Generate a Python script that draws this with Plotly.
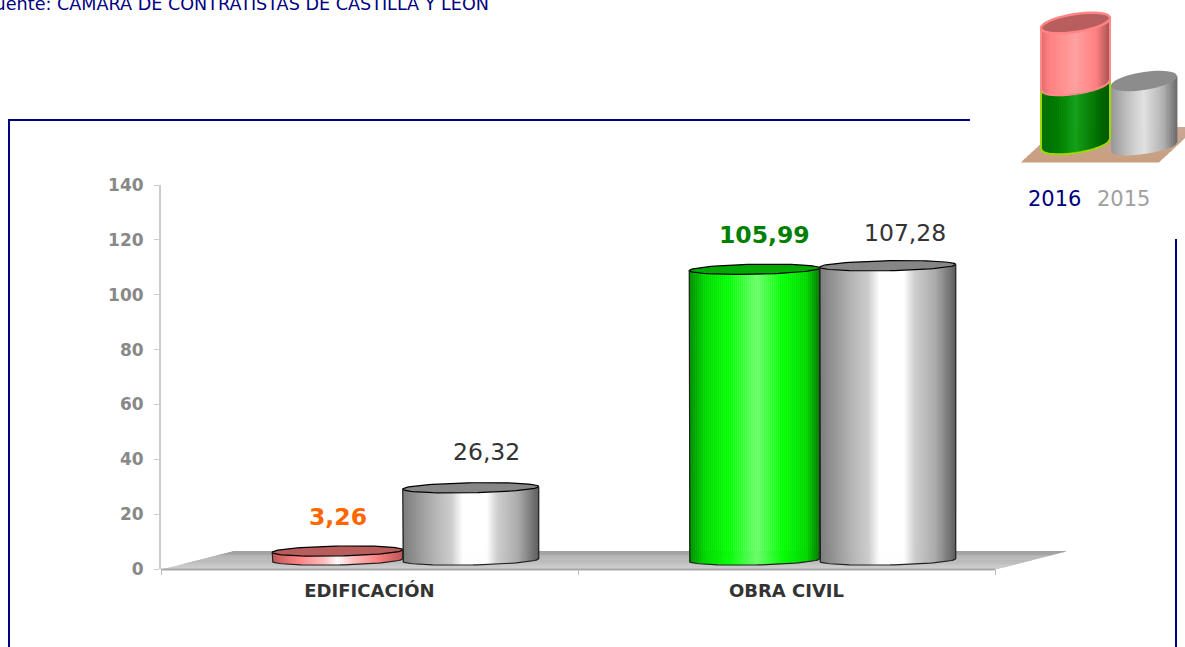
import numpy as np
import plotly.graph_objects as go

# ---- data ----
categories = ["EDIFICACIÓN", "OBRA CIVIL"]
values_2016 = [3.26, 105.99]
values_2015 = [26.32, 107.28]
labels_2016 = ["3,26", "105,99"]
labels_2015 = ["26,32", "107,28"]
y_ticks = [0, 20, 40, 60, 80, 100, 120, 140]
legend_years = ["2016", "2015"]
source_text = "Fuente: CAMARA DE CONTRATISTAS DE CASTILLA Y LEON"

# ---- page geometry (px) ----
W, H = 1185, 647
NAVY = "#000080"
PLOT_L, PLOT_R, Y0, Y140 = 161.0, 995.0, 569.0, 185.0
DEPTH_X, DEPTH_Y = 36.0, 9.0
PX_PER_X = (PLOT_R - PLOT_L) / 2.0
PX_PER_Y = (Y0 - Y140) / 140.0
BAR_W_2016 = [130.5, 130.5]
BAR_W_2015 = [136.0, 136.0]
ELL_B = 5.0
TILT = 1.3
Y2_LOW = -10.0  # room under the zero line of the 3D axis for the lower rims


def fx(px):
    return px / W


def fy(px):
    return 1 - px / H


def lerp_stops(stops, t):
    pos = [s[0] for s in stops]
    rgb = [np.interp(t, pos, [s[1][i] for s in stops]) for i in range(3)]
    return "rgb(%d,%d,%d)" % tuple(int(round(c)) for c in rgb)


GRAY = [(0, (122, 122, 122)), (.22, (176, 176, 176)), (.36, (205, 205, 205)), (.44, (255, 255, 255)),
        (.62, (255, 255, 255)), (.70, (205, 205, 205)), (.85, (170, 170, 170)), (1, (92, 92, 92))]
GREEN = [(0, (0, 140, 0)), (.12, (0, 215, 0)), (.30, (0, 255, 0)), (.52, (105, 255, 105)),
         (.72, (0, 255, 0)), (.9, (0, 215, 0)), (1, (0, 120, 0))]
RED = [(0, (190, 85, 85)), (.2, (255, 128, 128)), (.4, (255, 190, 190)), (.5, (255, 255, 255)),
       (.62, (255, 190, 190)), (.8, (255, 128, 128)), (1, (190, 85, 85))]
CYL_STYLE = {
    "2016": [(RED, "#b85c5c"), (GREEN, "#00a800")],
    "2015": [(GRAY, "#868686"), (GRAY, "#868686")],
}

fig = go.Figure()

# invisible trace that sets up the category axis
fig.add_trace(go.Scatter(x=categories, y=[0, 0], mode="markers", marker=dict(opacity=0),
                         hoverinfo="skip", showlegend=False, xaxis="x", yaxis="y"))


def add_cylinder(center, width, value, stops, top_color):
    """Cylinder on the shifted 3D axes; height comes from the value via the y axis."""
    a = width / 2 / PX_PER_X
    b = ELL_B / PX_PER_Y
    tilt = TILT / PX_PER_Y
    n = int(width / 2)
    u = (np.arange(n) + .5) / n * 2 - 1
    xs = center + u * a
    bases = -b * np.sqrt(1 - u ** 2) + tilt * u
    tops = value + tilt * u
    colors = [lerp_stops(stops, (v + 1) / 2) for v in u]
    fig.add_trace(go.Bar(x=xs, y=tops - bases, base=bases, width=2.4 / PX_PER_X,
                         marker=dict(color=colors, line=dict(width=0)), hoverinfo="skip",
                         showlegend=False, xaxis="x2", yaxis="y2", cliponaxis=False))
    t = np.linspace(0, 2 * np.pi, 91)
    ex = center + a * np.cos(t)
    ey = value + b * np.sin(t) + tilt * np.cos(t)
    fig.add_trace(go.Scatter(x=ex, y=ey, mode="lines", fill="toself", fillcolor=top_color,
                             line=dict(color="#000000", width=1.2), hoverinfo="skip",
                             showlegend=False, xaxis="x2", yaxis="y2", cliponaxis=False))
    lo = np.linspace(np.pi, 2 * np.pi, 46)
    ox = np.concatenate([[center - a], center + a * np.cos(lo), [center + a]])
    oy = np.concatenate([[value - tilt], b * np.sin(lo) + tilt * np.cos(lo), [value + tilt]])
    fig.add_trace(go.Scatter(x=ox, y=oy, mode="lines", line=dict(color="#222222", width=1.2),
                             hoverinfo="skip", showlegend=False, xaxis="x2", yaxis="y2", cliponaxis=False))


annotations = []
for i in range(len(categories)):
    w16, w15 = BAR_W_2016[i], BAR_W_2015[i]
    total = w16 + w15
    c16 = i - total / 2 / PX_PER_X + w16 / 2 / PX_PER_X
    c15 = i + total / 2 / PX_PER_X - w15 / 2 / PX_PER_X
    add_cylinder(c16, w16, values_2016[i], *CYL_STYLE["2016"][i])
    add_cylinder(c15, w15, values_2015[i], *CYL_STYLE["2015"][i])
    color16 = ["#ff6600", "#008000"][i]
    annotations.append(dict(x=c16, y=values_2016[i], xref="x2", yref="y2", text="<b>%s</b>" % labels_2016[i],
                            showarrow=False, xshift=[0, 10][i], yshift=[34, 34][i],
                            font=dict(family="DejaVu Sans", size=23.5, color=color16)))
    annotations.append(dict(x=c15, y=values_2015[i], xref="x2", yref="y2", text=labels_2015[i],
                            showarrow=False, xshift=[16, 17][i], yshift=[36, 33][i],
                            font=dict(family="DejaVu Sans", size=23.5, color="#333333")))

# ---- decorations (px based) ----
shapes = []


def poly(points, fill, line=None, lw=0, layer="above"):
    path = "M " + " L ".join("%.4f,%.4f" % (fx(x), fy(y)) for x, y in points) + " Z"
    shapes.append(dict(type="path", xref="paper", yref="paper", path=path, fillcolor=fill,
                       line=dict(color=line or "rgba(0,0,0,0)", width=lw), layer=layer))


def segment(x0, y0, x1, y1, color=NAVY, lw=2):
    shapes.append(dict(type="line", xref="paper", yref="paper", x0=fx(x0), y0=fy(y0), x1=fx(x1), y1=fy(y1),
                       line=dict(color=color, width=lw), layer="below"))


# frame
segment(9, 120, 970, 120)
segment(9, 119, 9, 647)
segment(1176, 239, 1176, 647)

# floor
n_band = 18
for k in range(n_band):
    s0, s1 = k / n_band, (k + 1) / n_band
    lx0, lx1 = 233 - 72 * s0, 233 - 72 * s1
    rx0, rx1 = 1067 - 72 * s0, 1067 - 72 * s1
    y0, y1 = 551 + 18.5 * s0, 551 + 18.5 * s1 + .4
    v = int(158 + 42 * s1)
    poly([(lx0, y0), (rx0, y0), (rx1, y1), (lx1, y1)], "rgb(%d,%d,%d)" % (v, v, v), layer="below")
segment(161, 569.5, 995, 569.5, "#a8a8a8", 2)

# legend icon: plate
for k in range(10):
    s0, s1 = k / 10, (k + 1) / 10
    poly([(1059 - 38 * s0, 127 + 35 * s0), (1197 - 38 * s0, 127 + 35 * s0),
          (1197 - 38 * s1, 127 + 35 * s1 + .4), (1059 - 38 * s1, 127 + 35 * s1 + .4)],
         "rgb(%d,%d,%d)" % (200, 160 + int(8 * (1 - s1)), 128 + int(22 * (1 - s1))))


def lower_arc(cx, cy, a, b, slope, xs):
    u = np.clip((xs - cx) / a, -1, 1)
    return cy + b * np.sqrt(1 - u ** 2) - slope * (xs - cx)


def icon_cyl(x0, x1, ytop_c, ybot_c, b, slope, stops, edge=None, ew=2, strip=2):
    cx, a = (x0 + x1) / 2, (x1 - x0) / 2
    xs = np.arange(x0, x1, strip)
    for xa in xs:
        xb = min(xa + strip, x1)
        m = np.array([xa, xb])
        t = ytop_c - slope * (m - cx)
        lo = lower_arc(cx, ybot_c, a, b, slope, m)
        color = lerp_stops(stops, (xa + strip / 2 - x0) / (x1 - x0))
        poly([(xa, t[0]), (xb + .4, t[1]), (xb + .4, lo[1]), (xa, lo[0])], color)
    if edge:
        arc_x = np.linspace(x0, x1, 40)
        arc_y = lower_arc(cx, ybot_c, a, b, slope, arc_x)
        path = [(x0, ytop_c + slope * a)] + list(zip(arc_x, arc_y)) + [(x1, ytop_c - slope * a)]
        p = "M " + " L ".join("%.4f,%.4f" % (fx(x), fy(y)) for x, y in path)
        shapes.append(dict(type="path", xref="paper", yref="paper", path=p, line=dict(color=edge, width=ew)))


def icon_top(x0, x1, cy, b, slope, fill, edge=None, ew=2):
    cx, a = (x0 + x1) / 2, (x1 - x0) / 2
    t = np.linspace(0, 2 * np.pi, 49)
    pts = [(cx + a * np.cos(v), cy + b * np.sin(v) - slope * a * np.cos(v)) for v in t]
    poly(pts, fill, edge, ew)


IC_RED = [(0, (225, 105, 105)), (.12, (255, 128, 128)), (.5, (255, 160, 160)), (.8, (255, 128, 128)),
          (1, (165, 80, 80))]
IC_GREEN = [(0, (0, 110, 0)), (.25, (0, 125, 0)), (.5, (20, 160, 25)), (.8, (0, 115, 0)), (1, (0, 85, 0))]
IC_GRAY = [(0, (150, 150, 150)), (.3, (200, 200, 200)), (.5, (225, 225, 225)), (.8, (175, 175, 175)),
           (1, (105, 105, 105))]
SL = 10 / 69
icon_cyl(1111, 1177, 81, 147, 7, SL, IC_GRAY)
icon_top(1111, 1177, 81, 9, SL, "#8c8c8c")
icon_cyl(1041, 1110, 85, 144, 9, SL, IC_GREEN, "#a0d800", 2)
icon_cyl(1041, 1110, 23, 85, 9, SL, IC_RED, "#ff8a8a", 2)
icon_top(1041, 1110, 23, 9, SL, "#b85e5e", "#ff8585", 2.4)

# ---- texts ----
fig.add_trace(go.Scatter(x=[489], y=[6], mode="text", text=[source_text], textposition="middle left",
                         textfont=dict(family="DejaVu Sans", size=17.6, color=NAVY), cliponaxis=False,
                         hoverinfo="skip", showlegend=False, xaxis="x3", yaxis="y3"))
annotations.append(dict(x=fx(1054), y=fy(199), xref="paper", yref="paper", xanchor="center", yanchor="middle",
                        text=legend_years[0], showarrow=False,
                        font=dict(family="DejaVu Sans", size=21, color=NAVY)))
annotations.append(dict(x=fx(1123), y=fy(199), xref="paper", yref="paper", xanchor="center", yanchor="middle",
                        text=legend_years[1], showarrow=False,
                        font=dict(family="DejaVu Sans", size=21, color="#a0a0a0")))

axis_dom_x = [fx(PLOT_L), fx(PLOT_R)]
axis_dom_y = [fy(Y0), fy(Y140)]
fig.update_layout(
    width=W, height=H, margin=dict(l=0, r=0, t=0, b=0, pad=0, autoexpand=False), autosize=False,
    paper_bgcolor="#ffffff", plot_bgcolor="rgba(0,0,0,0)", showlegend=False, barmode="overlay",
    shapes=shapes, annotations=annotations,
    xaxis=dict(domain=axis_dom_x, type="category", categoryorder="array", categoryarray=categories,
               range=[-0.5, 1.5], showgrid=False, zeroline=False, showline=False, ticks="outside",
               tickson="boundaries", ticklen=5, tickcolor="#bbbbbb", tickwidth=1, anchor="y",
               ticklabelstandoff=9, tickfont=dict(family="DejaVu Sans", size=18, color="#333333", weight="bold")),
    yaxis=dict(domain=axis_dom_y, range=[0, 140], tickvals=y_ticks, showgrid=False, zeroline=False,
               showline=True, linecolor="#cccccc", linewidth=2, ticks="outside", ticklen=5,
               tickcolor="#cccccc", tickwidth=1, anchor="x", ticklabelstandoff=7,
               tickfont=dict(family="DejaVu Sans", size=17, color="#888888", weight="bold")),
    xaxis2=dict(domain=[fx(PLOT_L + DEPTH_X), fx(PLOT_R + DEPTH_X)], range=[-0.5, 1.5], visible=False,
                anchor="y2"),
    yaxis2=dict(domain=[fy(Y0 - DEPTH_Y - Y2_LOW * PX_PER_Y), fy(Y140 - DEPTH_Y)], range=[Y2_LOW, 140],
                visible=False, anchor="x2"),
    xaxis3=dict(domain=[0, 1], range=[0, W], visible=False, anchor="y3"),
    yaxis3=dict(domain=[0, 1], range=[H, 0], visible=False, anchor="x3"),
)

fig.write_html("out.html", config={"displayModeBar": False},
               post_script="document.body.style.margin='0';document.body.style.overflow='hidden';")
